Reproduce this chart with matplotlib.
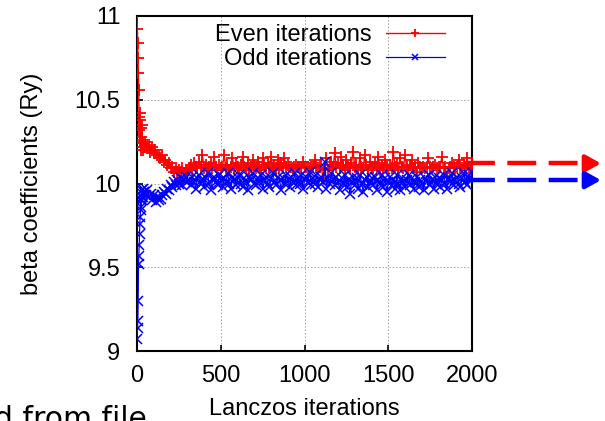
import matplotlib
matplotlib.use("Agg")
import matplotlib.pyplot as plt
from matplotlib.ticker import FuncFormatter

# Lanczos beta coefficients (Ry)
even_iter = list(range(0, 40, 2)) + list(range(40, 2001, 10))
odd_iter = list(range(1, 40, 2)) + list(range(41, 2002, 10))

even_beta = [
    11.05, 10.92, 10.84, 10.75, 10.66, 10.56, 10.40, 10.32, 10.42, 10.25,
    10.38, 10.20, 10.33, 10.28, 10.22, 10.35, 10.26, 10.20, 10.24, 10.22,
    # 40 .. 300
    10.22, 10.25, 10.21, 10.23, 10.19, 10.22, 10.18, 10.20, 10.17, 10.16,
    10.15, 10.17, 10.13, 10.14, 10.11, 10.12, 10.09, 10.10, 10.07, 10.09,
    10.06, 10.08, 10.07, 10.09, 10.06, 10.08, 10.07,
    # 310 .. 2000
    10.09, 10.11, 10.08, 10.12, 10.10, 10.09, 10.13, 10.10, 10.17, 10.09,
    10.11, 10.08, 10.10, 10.12, 10.09, 10.16, 10.10, 10.08, 10.11, 10.09,
    10.10, 10.17, 10.09, 10.11, 10.08, 10.10, 10.15, 10.09, 10.12, 10.10,
    10.08, 10.11, 10.16, 10.10, 10.09, 10.12, 10.08, 10.10, 10.14, 10.11,
    10.09, 10.13, 10.10, 10.08, 10.15, 10.11, 10.09, 10.12, 10.10, 10.16,
    10.09, 10.11, 10.08, 10.14, 10.10, 10.12, 10.09, 10.15, 10.10, 10.11,
    10.10, 10.10, 10.09, 10.10, 10.11, 10.10, 10.10, 10.09, 10.13, 10.10,
    10.10, 10.10, 10.09, 10.10, 10.10, 10.14, 10.10, 10.09, 10.10, 10.11,
    10.03, 10.09, 10.15, 10.08, 10.11, 10.13, 10.09, 10.18, 10.10, 10.12,
    10.09, 10.16, 10.11, 10.08, 10.14, 10.10, 10.09, 10.12, 10.19, 10.10,
    10.11, 10.08, 10.15, 10.10, 10.09, 10.17, 10.11, 10.08, 10.13, 10.10,
    10.09, 10.12, 10.10, 10.16, 10.08, 10.11, 10.09, 10.14, 10.10, 10.08,
    10.11, 10.09, 10.19, 10.10, 10.12, 10.08, 10.15, 10.10, 10.09, 10.17,
    10.10, 10.08, 10.11, 10.14, 10.09, 10.10, 10.07, 10.12, 10.10, 10.09,
    10.10, 10.09, 10.10, 10.15, 10.10, 10.09, 10.10, 10.11, 10.09, 10.10,
    10.10, 10.16, 10.09, 10.10, 10.04, 10.09, 10.10, 10.12, 10.10, 10.09,
    10.10, 10.14, 10.10, 10.09, 10.11, 10.10, 10.15, 10.10, 10.09, 10.11,
]

odd_beta = [
    9.07, 9.14, 9.18, 9.30, 9.52, 9.57, 9.63, 9.70, 9.76, 9.80,
    9.84, 9.90, 9.86, 9.92, 9.96, 9.90, 9.94, 9.97, 9.92, 9.95,
    # 41 .. 301
    9.95, 9.93, 9.96, 9.92, 9.94, 9.90, 9.93, 9.89, 9.92, 9.90,
    9.91, 9.93, 9.95, 9.94, 9.97, 9.96, 9.99, 9.98, 10.01, 9.99,
    10.02, 10.00, 10.03, 9.99, 10.02, 10.04, 10.01,
    # 311 .. 2001
    10.02, 9.99, 10.04, 10.01, 9.97, 10.03, 10.05, 10.00, 10.02, 9.98,
    10.03, 10.06, 10.00, 9.96, 10.02, 10.04, 10.01, 9.99, 10.05, 10.02,
    9.98, 10.03, 10.01, 10.06, 10.00, 9.97, 10.04, 10.02, 9.99, 10.03,
    10.05, 10.00, 9.98, 10.03, 10.01, 9.96, 10.04, 10.02, 10.06, 10.00,
    9.99, 10.03, 10.01, 10.05, 9.97, 10.02, 10.04, 10.00, 9.98, 10.03,
    10.06, 10.01, 9.99, 10.04, 10.02, 9.96, 10.03, 10.00, 10.05, 10.02,
    9.98, 10.04, 10.01, 10.06, 9.99, 10.03, 10.00, 10.05, 9.97, 10.02,
    10.04, 10.01, 10.07, 9.99, 10.03, 10.00, 10.05, 9.98, 10.02, 10.04,
    10.01, 10.13, 9.97, 10.03, 10.00, 10.06, 10.02, 9.99, 10.04, 10.01,
    9.96, 10.03, 10.00, 10.05, 9.98, 10.02, 9.94, 10.01, 10.04, 9.99,
    10.03, 9.97, 10.05, 10.00, 9.95, 10.02, 10.04, 9.98, 10.01, 10.03,
    9.99, 10.04, 9.96, 10.02, 10.00, 10.05, 9.98, 10.03, 9.95, 10.01,
    10.04, 9.99, 10.02, 9.97, 10.05, 10.00, 9.96, 10.03, 10.01, 9.98,
    10.02, 10.05, 9.99, 10.03, 9.97, 10.01, 10.04, 9.98, 10.02, 10.00,
    9.96, 10.03, 10.01, 10.05, 9.99, 10.02, 9.97, 10.04, 10.00, 10.03,
    9.98, 10.02, 10.05, 10.00, 9.97, 10.03, 10.01, 10.06, 9.99, 10.02,
    10.04, 10.00, 9.98, 10.03, 10.06, 10.01, 9.99, 10.05, 10.02, 10.07,
]

# converged values the dashed arrows point to
even_limit = 10.12
odd_limit = 10.02

x_ticks = [0, 500, 1000, 1500, 2000]
y_ticks = [9, 9.5, 10, 10.5, 11]

plt.rcParams["font.family"] = ["Liberation Sans", "DejaVu Sans"]

fig = plt.figure(figsize=(6.05, 4.21), dpi=100)
ax = fig.add_axes([137 / 605, 1 - 351 / 421, 335 / 605, 335 / 421])

ax.plot(even_iter, even_beta, color="#ff0000", lw=1.0, marker="+",
        ms=9, mew=1.3, label="Even iterations", zorder=3)
ax.plot(odd_iter, odd_beta, color="#0000ff", lw=0.9, marker="x",
        ms=6.5, mew=1.1, label="Odd iterations", zorder=3)

ax.set_xlim(0, 2000)
ax.set_ylim(9, 11)
ax.set_xticks(x_ticks)
ax.set_yticks(y_ticks)
ax.yaxis.set_major_formatter(FuncFormatter(lambda v, p: "%g" % v))
ax.tick_params(direction="in", length=4, width=1.2, labelsize=17)
ax.tick_params(axis="y", pad=12)
ax.tick_params(axis="x", pad=10)
for s in ax.spines.values():
    s.set_linewidth(1.5)

ax.grid(True, color="#a0a0a0", lw=0.7, linestyle=(0, (1.5, 2)))
ax.set_axisbelow(True)

ax.set_xlabel("Lanczos iterations", fontsize=17, labelpad=8)
ax.set_ylabel("beta coefficients (Ry)", fontsize=17, labelpad=23)

ax.legend(loc="upper right", bbox_to_anchor=(454 / 605, 1 - 15 / 421),
          bbox_transform=fig.transFigure, frameon=False, markerfirst=False,
          fontsize=17, handlelength=2.5, handletextpad=0.6,
          labelspacing=0.07, borderaxespad=0, numpoints=1, markerscale=0.7)

# dashed arrows out of the right edge
x_tail, x_head = 1965, 2770
for lim, col in [(even_limit, "#ff0000"), (odd_limit, "#0000ff")]:
    ax.plot([x_tail, x_head - 60], [lim, lim], color=col, lw=3.2,
            dashes=(6.5, 2.8), clip_on=False, zorder=4)
    ax.annotate("", xy=(x_head, lim), xytext=(x_head - 90, lim),
                arrowprops=dict(arrowstyle="-|>,head_length=0.9,head_width=0.5",
                                color=col, lw=3.2, shrinkA=0, shrinkB=0),
                annotation_clip=False)

fig.text(-6 / 605, 1 - 428 / 421, "d from file", fontsize=21.5,
         family="DejaVu Sans", ha="left", va="baseline")

fig.savefig("out.png", dpi=100)
